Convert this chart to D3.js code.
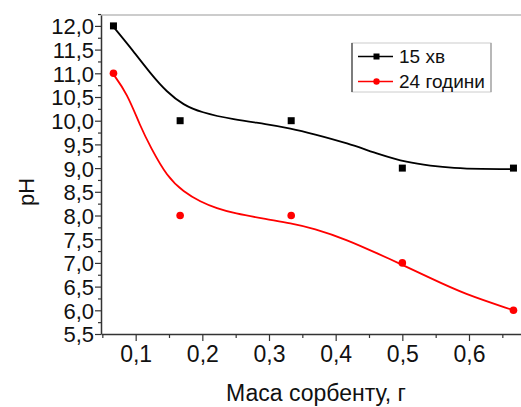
<!DOCTYPE html>
<html>
<head>
<meta charset="utf-8">
<script src="https://cdn.jsdelivr.net/npm/d3@7"></script>
<style>
  body { margin: 0; background: #fff; }
  text { font-family: Arial, "Liberation Sans", sans-serif; }
</style>
</head>
<body>
<div id="content"></div>
<script>
// measured points
var massX = [0.0667, 0.1667, 0.3333, 0.5, 0.6667];
var ph15min = [12, 10, 10, 9, 9];
var ph24h = [11, 8, 8, 7, 6];

// fitted curves
var fit15X = [0.0655, 0.097, 0.122, 0.147, 0.172, 0.197, 0.247, 0.297, 0.332, 0.367, 0.417, 0.467, 0.507, 0.542, 0.577, 0.617, 0.667];
var fit15Y = [12.0, 11.46, 11.0, 10.6, 10.33, 10.18, 10.02, 9.93, 9.84, 9.72, 9.53, 9.28, 9.12, 9.05, 9.0, 8.98, 8.98];
var fit24X = [0.0655, 0.087, 0.107, 0.122, 0.147, 0.172, 0.197, 0.222, 0.247, 0.297, 0.332, 0.367, 0.417, 0.467, 0.494, 0.542, 0.592, 0.667];
var fit24Y = [11.0, 10.58, 9.88, 9.45, 8.82, 8.5, 8.29, 8.15, 8.05, 7.92, 7.84, 7.73, 7.49, 7.17, 7.0, 6.68, 6.35, 6.0];

var seriesNames = ['15 хв', '24 години'];
var seriesColors = ['#000000', '#ff0000'];

var yTicks = [5.5, 6, 6.5, 7, 7.5, 8, 8.5, 9, 9.5, 10, 10.5, 11, 11.5, 12];
var xTicks = [0.1, 0.2, 0.3, 0.4, 0.5, 0.6];

var W = 521, H = 407;
var margin = {top: 15, right: 0, bottom: 73, left: 101},
    width = W - margin.left - margin.right,
    height = H - margin.top - margin.bottom;

var fmt = function(d) { return d3.format('.1f')(d).replace('.', ','); };

var x = d3.scaleLinear().domain([0.048, 0.678]).range([0, width]);
var y = d3.scaleLinear().domain([5.5, 12.23]).range([height, 0]);

var svg = d3.select('#content').append('svg')
    .attr('width', W).attr('height', H);
var g = svg.append('g')
    .attr('transform', 'translate(' + margin.left + ',' + margin.top + ')');

// frame top
g.append('line').attr('x1', 0).attr('x2', width).attr('y1', 0).attr('y2', 0)
    .attr('stroke', '#999').attr('stroke-width', 1.2);

// minor ticks
var yMinor = d3.range(5.75, 12.3, 0.5);
var xMinor = [0.05, 0.15, 0.25, 0.35, 0.45, 0.55, 0.65];

var yAxis = g.append('g')
    .call(d3.axisLeft(y).tickValues(yTicks).tickFormat(fmt).tickSize(6).tickSizeOuter(0));
g.append('g')
    .call(d3.axisLeft(y).tickValues(yMinor).tickFormat('').tickSize(3).tickSizeOuter(0))
    .select('.domain').remove();
var xAxis = g.append('g')
    .attr('transform', 'translate(0,' + height + ')')
    .call(d3.axisBottom(x).tickValues(xTicks).tickFormat(fmt).tickSize(7).tickSizeOuter(0));
g.append('g')
    .attr('transform', 'translate(0,' + height + ')')
    .call(d3.axisBottom(x).tickValues(xMinor).tickFormat('').tickSize(4).tickSizeOuter(0))
    .select('.domain').remove();

g.selectAll('.domain').attr('stroke', '#333').attr('stroke-width', 1.5);
g.selectAll('.tick line').attr('stroke', '#333').attr('stroke-width', 1.2);
yAxis.selectAll('text').attr('font-size', 22).attr('fill', '#111').attr('x', -7).attr('dy', '0.36em');
xAxis.selectAll('text').attr('font-size', 23).attr('fill', '#111').attr('y', 12);

// axis titles
svg.append('text')
    .attr('transform', 'translate(34,192) rotate(-90)')
    .attr('text-anchor', 'middle')
    .attr('font-size', 22).attr('fill', '#111')
    .text('pH');
svg.append('text')
    .attr('x', 316).attr('y', 401)
    .attr('text-anchor', 'middle')
    .attr('font-size', 23).attr('fill', '#111')
    .text('Маса сорбенту, г');

// fitted lines
var line = d3.line()
    .x(function(d) { return x(d[0]); })
    .y(function(d) { return y(d[1]); })
    .curve(d3.curveBasis);

var fits = [d3.zip(fit15X, fit15Y), d3.zip(fit24X, fit24Y)];
fits.forEach(function(f, i) {
  g.append('path').datum(f)
      .attr('fill', 'none')
      .attr('stroke', seriesColors[i])
      .attr('stroke-width', 1.8)
      .attr('d', line);
});

// points
g.selectAll('.sq').data(d3.zip(massX, ph15min)).enter().append('rect')
    .attr('x', function(d) { return x(d[0]) - 3.5; })
    .attr('y', function(d) { return y(d[1]) - 3.5; })
    .attr('width', 7).attr('height', 7)
    .attr('fill', seriesColors[0]);
g.selectAll('.dot').data(d3.zip(massX, ph24h)).enter().append('circle')
    .attr('cx', function(d) { return x(d[0]); })
    .attr('cy', function(d) { return y(d[1]); })
    .attr('r', 3.8)
    .attr('fill', seriesColors[1]);

// legend
var lg = svg.append('g').attr('transform', 'translate(352,43)');
lg.append('rect').attr('x', 0).attr('y', 0).attr('width', 139).attr('height', 49)
    .attr('fill', 'none').attr('stroke', '#ccc').attr('stroke-width', 1);
lg.append('line').attr('x1', 0).attr('x2', 0).attr('y1', 0).attr('y2', 49)
    .attr('stroke', '#444').attr('stroke-width', 1.3);
lg.append('line').attr('x1', 139).attr('x2', 139).attr('y1', 0).attr('y2', 49)
    .attr('stroke', '#999').attr('stroke-width', 1.2);
seriesNames.forEach(function(name, i) {
  var yy = 13.5 + i * 25;
  lg.append('line').attr('x1', 6).attr('x2', 41).attr('y1', yy).attr('y2', yy)
      .attr('stroke', seriesColors[i]).attr('stroke-width', 1.5);
  if (i === 0) {
    lg.append('rect').attr('x', 21.5).attr('y', yy - 3).attr('width', 6).attr('height', 6)
        .attr('fill', seriesColors[i]);
  } else {
    lg.append('circle').attr('cx', 24.5).attr('cy', yy).attr('r', 3.2)
        .attr('fill', seriesColors[i]);
  }
  lg.append('text').attr('x', 47).attr('y', yy).attr('dy', '0.36em')
      .attr('font-size', 19).attr('fill', '#111')
      .text(name);
});
</script>
</body>
</html>
